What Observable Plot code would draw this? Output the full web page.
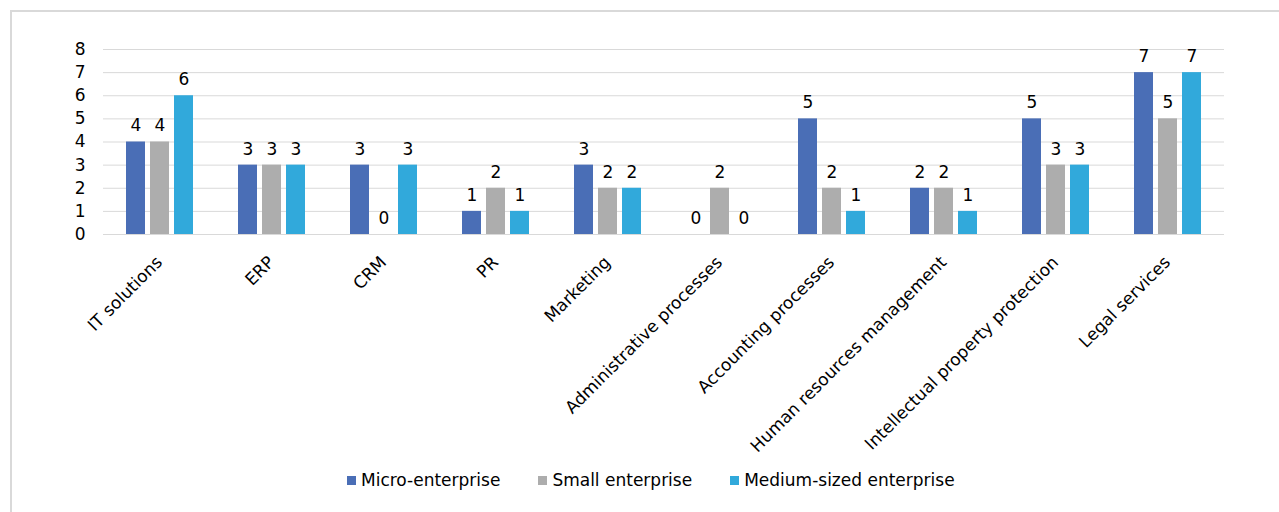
<!DOCTYPE html>
<html>
<head>
<meta charset="utf-8">
<script src="https://cdn.jsdelivr.net/npm/d3@7"></script>
<script src="https://cdn.jsdelivr.net/npm/@observablehq/plot@0.6"></script>
<style>
  html, body { margin: 0; padding: 0; overflow: hidden; background: #fff; width: 1279px; height: 512px; }
  #frame { position: absolute; left: 10px; top: 10px; width: 1320px; height: 600px; border: 2px solid #d9d9d9; box-sizing: border-box; }
  .layer { position: absolute; left: 0; top: 0; }
  #legend { position: absolute; top: 470px; left: 347px; display: flex; align-items: center; gap: 38px;
            font-family: "DejaVu Sans", sans-serif; font-size: 17px; line-height: 20px; color: #000; white-space: nowrap; }
  .item { display: flex; align-items: center; gap: 5px; }
  .sw { width: 9px; height: 9px; display: inline-block; }
</style>
</head>
<body>
<div id="frame"></div>
<div id="bg" class="layer"></div>
<div id="fg" class="layer"></div>
<div id="legend"></div>
<script>
const categories = ["IT solutions", "ERP", "CRM", "PR", "Marketing", "Administrative processes",
  "Accounting processes", "Human resources management", "Intellectual property protection", "Legal services"];
const series = ["Micro-enterprise", "Small enterprise", "Medium-sized enterprise"];
const micro  = [4, 3, 3, 1, 3, 0, 5, 2, 5, 7];
const small  = [4, 3, 0, 2, 2, 2, 2, 2, 3, 5];
const medium = [6, 3, 3, 1, 2, 0, 1, 1, 3, 7];
const colors = ["#4a6eb6", "#adadad", "#31a9db"];
const yTicks = [0, 1, 2, 3, 4, 5, 6, 7, 8];

const seriesValues = [micro, small, medium];
const data = categories.flatMap((c, i) => series.map((s, j) => ({category: c, series: s, value: seriesValues[j][i]})));

const W = 1279, H = 460;
const margins = {marginLeft: 103, marginRight: 55, marginTop: 49, marginBottom: 226};
const font = {background: "transparent", fontFamily: "'DejaVu Sans', sans-serif", fontSize: "17px", color: "#000"};

const bg = Plot.plot({
  width: W, height: H, ...margins,
  style: font,
  x: {domain: categories, paddingInner: 0.383, paddingOuter: 0.19, axis: null},
  y: {domain: [0, 8], ticks: yTicks, tickSize: 0, tickPadding: 18, label: null},
  marks: [
    Plot.ruleY(yTicks, {stroke: "#d9d9d9", strokeWidth: 1}),
    Plot.text(categories, {x: d => d, text: d => d, frameAnchor: "bottom", rotate: -45,
      textAnchor: "end", lineAnchor: "middle", dx: -1, dy: 25, fill: "#000", fontSize: 17})
  ]
});
document.getElementById("bg").appendChild(bg);

const fg = Plot.plot({
  width: W, height: H, ...margins,
  style: font,
  facet: {data: data, x: "category"},
  fx: {domain: categories, paddingInner: 0.383, paddingOuter: 0.19, axis: null, label: null},
  x: {domain: series, paddingInner: 0.21, paddingOuter: 0, axis: null},
  y: {domain: [0, 8], axis: null},
  color: {domain: series, range: colors},
  marks: [
    Plot.barY(data, {x: "series", y: d => d.value > 0 ? d.value : NaN, fill: "series"}),
    Plot.text(data, {x: "series", y: "value", text: d => String(d.value), dy: -16, fill: "#000", fontSize: 17})
  ]
});
document.getElementById("fg").appendChild(fg);

const legend = document.getElementById("legend");
series.forEach((s, i) => {
  const item = document.createElement("div");
  item.className = "item";
  const sw = document.createElement("span");
  sw.className = "sw";
  sw.style.background = colors[i];
  const label = document.createElement("span");
  label.textContent = s;
  item.appendChild(sw);
  item.appendChild(label);
  legend.appendChild(item);
});
</script>
</body>
</html>
